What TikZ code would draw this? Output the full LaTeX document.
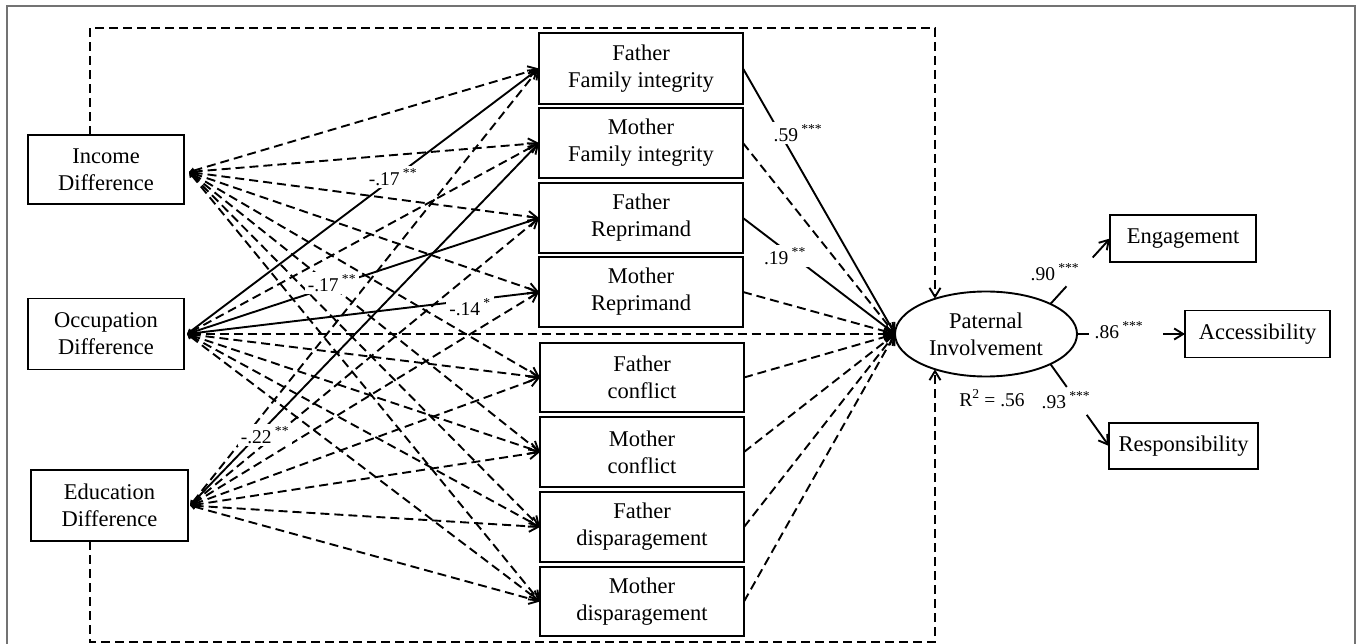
\documentclass[tikz,border=0pt]{standalone}
\usepackage{fontspec}
\setmainfont{Liberation Serif}
\usetikzlibrary{arrows.meta,calc,shapes.geometric}
\begin{document}
\begin{tikzpicture}[x=1pt,y=-1pt,
  every node/.style={inner sep=0pt, outer sep=0pt},
  box/.style={draw, line width=1.9pt, align=center, font=\fontsize{22.5}{27}\selectfont},
  lv/.style={draw, ellipse, line width=1.9pt, align=center, font=\fontsize{22.5}{27}\selectfont},
  ln/.style={line width=1.9pt},
  dsh/.style={line width=1.9pt, dash pattern=on 9pt off 5pt},
  arr/.style={-{Straight Barb[length=9pt,width=11pt]}},
  dbl/.style={{Triangle[length=5pt,width=6pt]}-{Straight Barb[length=9pt,width=11pt]}},
  lbl/.style={fill=white, inner sep=3pt, font=\fontsize{19.5}{21}\selectfont},
  outerframe/.style={draw=black!55, line width=2pt}
]
\useasboundingbox (0,0) rectangle (1358,644);
\draw[outerframe] (7,646) -- (7,6) -- (1355,6) -- (1355,646);

% left boxes
\node[box, minimum width=156pt, minimum height=69pt] (inc) at (106,169.5) {Income\\Difference};
\node[box, minimum width=156pt, minimum height=71pt] (occ) at (106,334) {Occupation\\Difference};
\node[box, minimum width=157pt, minimum height=71pt] (edu) at (109.5,505.5) {Education\\Difference};

% middle boxes
\node[box, minimum width=204pt, minimum height=71pt] (ffi) at (641,68.5) {Father\\Family integrity};
\node[box, minimum width=204pt, minimum height=70pt] (mfi) at (641,143) {Mother\\Family integrity};
\node[box, minimum width=204pt, minimum height=70pt] (fr) at (641,218) {Father\\Reprimand};
\node[box, minimum width=204pt, minimum height=70pt] (mr) at (641,292) {Mother\\Reprimand};
\node[box, minimum width=204pt, minimum height=69pt] (fc) at (642,377.5) {Father\\conflict};
\node[box, minimum width=204pt, minimum height=70pt] (mc) at (642,452) {Mother\\conflict};
\node[box, minimum width=204pt, minimum height=70pt] (fd) at (642,527) {Father\\disparagement};
\node[box, minimum width=204pt, minimum height=69pt] (md) at (642,601.5) {Mother\\disparagement};

% latent variable
\node[lv, minimum width=182pt, minimum height=85pt] (pi) at (986,334) {Paternal\\Involvement};

% indicators
\node[box, minimum width=146pt, minimum height=47pt] (eng) at (1183,238.5) {Engagement};
\node[box, minimum width=145pt, minimum height=47pt] (acc) at (1257.5,334) {Accessibility};
\node[box, minimum width=149pt, minimum height=46pt] (res) at (1183.5,446) {Responsibility};

% start points of the paths from the left boxes
\coordinate (incS) at ([xshift=5pt,yshift=-2.5pt]inc.east);
\coordinate (occS) at ([xshift=3pt]occ.east);
\coordinate (eduS) at ([xshift=2pt]edu.east);

% frame coordinates for the dashed paths going around
\coordinate (fTL) at (90,28);
\coordinate (fTR) at (935,28);
\coordinate (fBL) at (90,642);
\coordinate (fBR) at (935,642);

% left -> middle
\foreach \t in {ffi,mfi,fr,mr,fc,mc,fd,md}
  \draw[dsh,dbl] (incS) -- (\t.west);
\foreach \t in {mfi,fc,mc,fd,md}
  \draw[dsh,dbl] (occS) -- (\t.west);
\foreach \t in {ffi,fr,mr}
  \draw[ln,dbl] (occS) -- (\t.west);
\foreach \t in {ffi,fr,mr,fc,mc,fd,md}
  \draw[dsh,dbl] (eduS) -- (\t.west);
\draw[ln,dbl] (eduS) -- (mfi.west);
\draw[dsh,dbl] (occS) -- (pi.west);

% middle -> latent
\draw[ln,arr] (ffi.east) -- (pi.west);
\draw[ln,arr] (fr.east) -- (pi.west);
\foreach \t in {mfi,mr,fc,mc,fd,md}
  \draw[dsh,arr] (\t.east) -- (pi.west);

% income and education -> latent (around)
\draw[dsh,arr] (fTL |- inc.north) -- (fTL) -- (fTR) -- (fTR |- pi.145);
\draw[dsh,arr] (fBL |- edu.south) -- (fBL) -- (fBR) -- (fBR |- pi.215);

% loadings (with gaps for the labels)
\draw[ln] (pi.25) -- ($(pi.25)!0.27!(eng.west)$);
\draw[ln,arr] ($(pi.25)!0.71!(eng.west)$) -- (eng.west);
\draw[ln] (pi.east) -- ($(pi.east)!0.11!(acc.west)$);
\draw[ln,arr] ($(pi.east)!0.80!(acc.west)$) -- (acc.west);
\draw[ln] (pi.-25) -- ($(pi.-25)!0.28!(res.west)$);
\draw[ln,arr] ($(pi.-25)!0.62!(res.west)$) -- (res.west);

% labels
\node[lbl] (l1) at (393,177) {-.17\,\textsuperscript{**}};
\node[lbl] (l2) at (332,283) {-.17\,\textsuperscript{**}};
\node[lbl] (l3) at (470,307) {-.14\,\textsuperscript{*}};
\node[lbl] (l4) at (265,435) {-.22\,\textsuperscript{**}};
\node[lbl] (l5) at (798,133) {.59\,\textsuperscript{***}};
\node[lbl] (l6) at (785,256) {.19\,\textsuperscript{**}};
\node[lbl] (l7) at (1055,272) {.90\,\textsuperscript{***}};
\node[lbl] (l8) at (1119,330) {.86\,\textsuperscript{***}};
\node[lbl] (l9) at (1066,400) {.93\,\textsuperscript{***}};
\node[lbl] (r2) at (992,398) {R\textsuperscript{2} = .56};
\end{tikzpicture}
\end{document}
